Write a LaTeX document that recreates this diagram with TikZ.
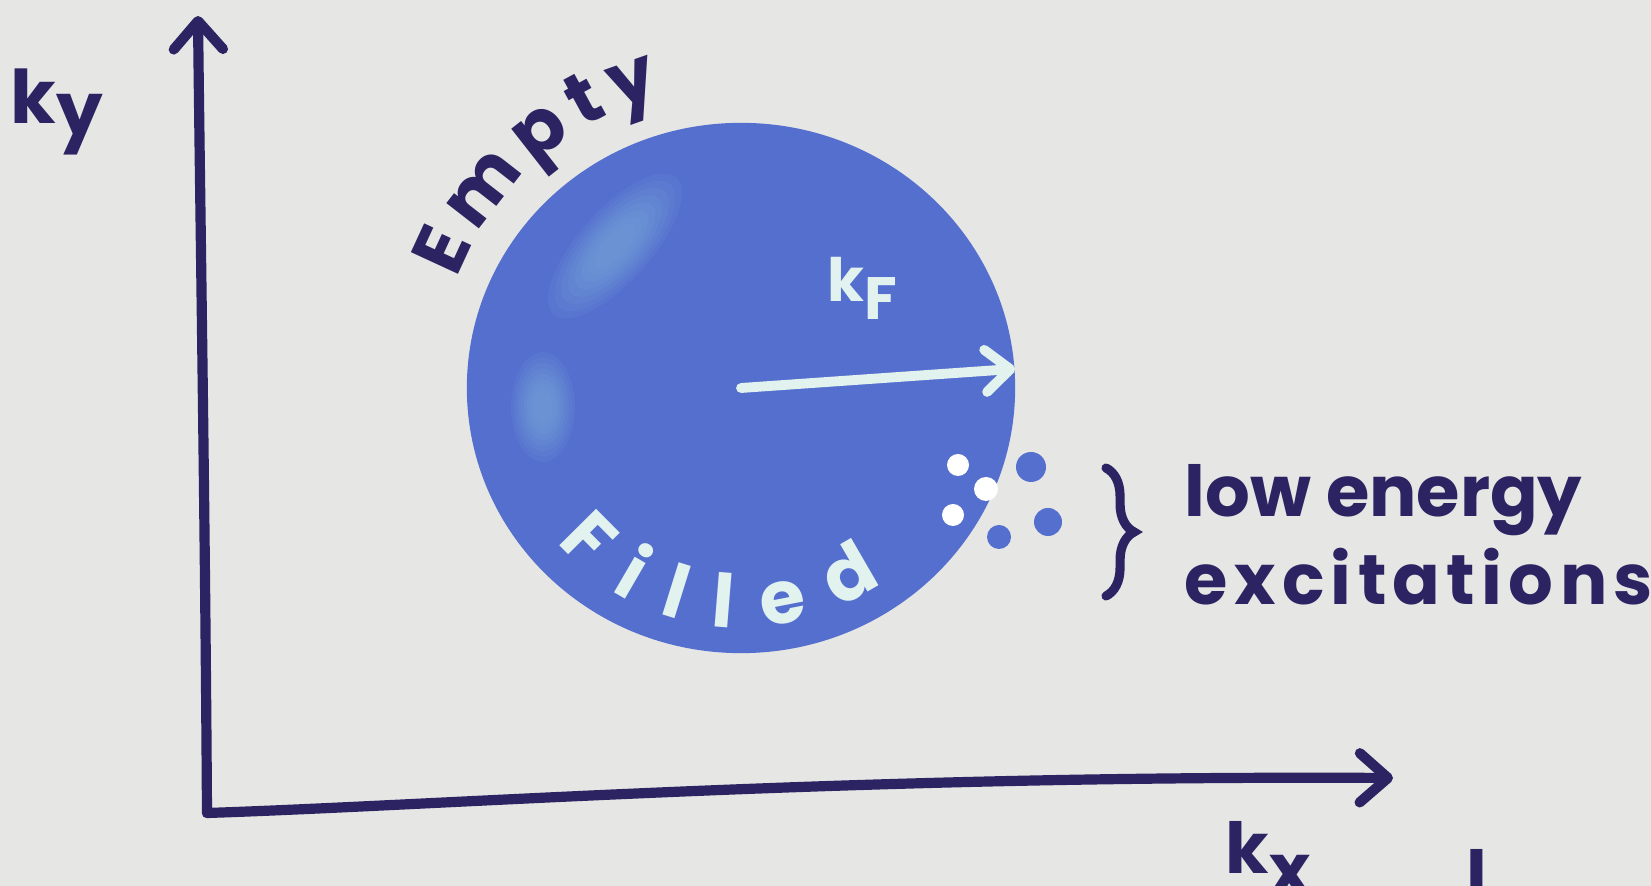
\documentclass[tikz,border=0pt]{standalone}
\usepackage{fontspec}
\setmainfont{Poppins}
\usetikzlibrary{arrows.meta,decorations.text,decorations.pathreplacing,shapes.geometric,positioning}

\definecolor{paper}{RGB}{230,230,228}
\definecolor{ink}{RGB}{44,36,98}
\definecolor{sea}{RGB}{84,111,206}
\definecolor{glint}{RGB}{130,178,220}
\definecolor{chalk}{RGB}{226,242,238}

\tikzset{
  axisline/.style={draw=ink,line width=2.9pt,line cap=round,line join=round,
    -{Straight Barb[length=8pt,width=14pt,round]}},
  kfarrow/.style={draw=chalk,line width=2.8pt,line cap=round,
    -{Straight Barb[length=7pt,width=12pt,round]}},
  inklabel/.style={text=ink,inner sep=0pt,font=\bfseries\fontsize{20}{25}\selectfont},
  chalklabel/.style={text=chalk,inner sep=0pt,font=\bfseries\fontsize{17}{20}\selectfont},
  disc/.style={ellipse,fill=sea,inner sep=0pt,minimum width=5.48cm,minimum height=5.30cm},
  bracket/.style={draw=ink,line width=2.6pt,line cap=round,decorate,
    decoration={brace,amplitude=8pt}}
}

\begin{document}
\begin{tikzpicture}[x=0.01cm,y=-0.01cm]
  \useasboundingbox (0,0) rectangle (1651,886);
  \fill[paper] (0,0) rectangle (1651,886);

  % axes
  \coordinate (o) at (207,813);
  \coordinate (ytip) at (198,16);
  \coordinate (xtip) at (1393,778);
  \draw[axisline] (o) .. controls (205,500) and (200,200) .. (ytip);
  \draw[axisline] (o) .. controls (450,805) and (850,775) .. (xtip);
  \node[inklabel,font=\bfseries\fontsize{21}{25}\selectfont] (ky) at (57,112) {k\raisebox{-.15em}{y}};
  \node[inklabel] (kx) at (1268,858) {k\raisebox{-.3em}{x}};
  \node[inklabel,anchor=base west] (cut) at (1466,902) {l};

  % Fermi sea
  \node[disc] (fs) at (741,388) {};
  \foreach \s in {1,0.9,...,0.2}
    \fill[glint,opacity=0.1,rotate around={48:(615,246)}] (615,246) ellipse [x radius=92*\s, y radius=36*\s];
  \foreach \s in {1,0.9,...,0.2}
    \fill[glint,opacity=0.1] (543,407) ellipse [x radius=32*\s, y radius=55*\s];

  \draw[kfarrow] (fs.center) -- (fs.4);
  \node[chalklabel] (kf) at (862,288) {k\raisebox{-.3em}{F}};

  \coordinate (emptystart) at ([shift={(-159:304)}]fs.center);
  \path[decorate,decoration={text along path,text align=fit to path,
    text={|\bfseries\fontsize{21}{26}\selectfont\color{ink}|Empty}}]
    (emptystart) arc[start angle=-159,end angle=-105,radius=304];

  \coordinate (filledstart) at ([shift={(140:240)}]fs.center);
  \path[decorate,decoration={text along path,text align=fit to path,
    text={|\bfseries\fontsize{21}{24}\selectfont\color{chalk}|Filled}}]
    (filledstart) arc[start angle=140,end angle=54,radius=240];

  % excitations
  \foreach \p/\r in {{(958,465)}/11,{(986,489)}/12,{(953,515)}/11}
    \fill[white] \p circle[radius=\r];
  \foreach \p/\r in {{(1031,467)}/15,{(1048,522)}/14,{(999,537)}/12}
    \fill[sea] \p circle[radius=\r];

  \node[inklabel,anchor=north west,align=left] (exc) at (1184,464)
    {low energy\\{\addfontfeatures{LetterSpace=9}excitations}};
  \coordinate (bt) at (1106,468);
  \coordinate (bb) at (1106,596);
  \draw[bracket] (bt) -- (bb);
\end{tikzpicture}
\end{document}
